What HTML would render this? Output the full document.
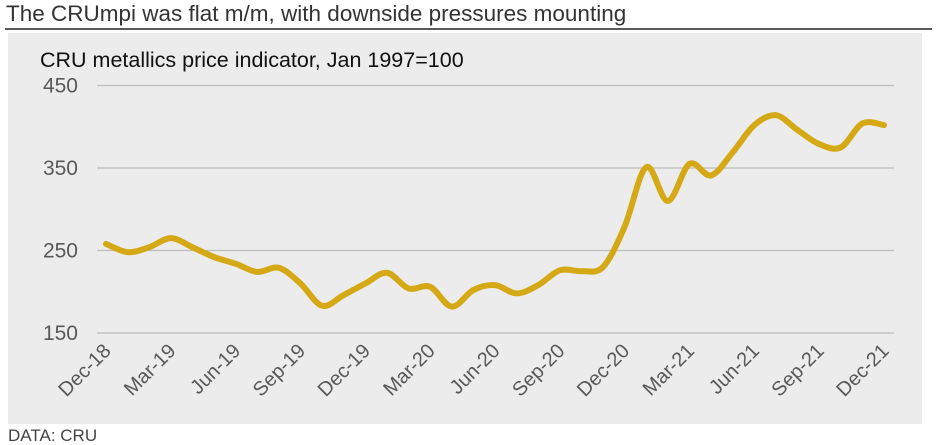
<!DOCTYPE html>
<html><head><meta charset="utf-8"><style>
body{margin:0;background:#fff;font-family:"Liberation Sans",Arial,sans-serif;}
svg{display:block}
</style></head><body>
<svg width="936" height="445">
<text x="6" y="21" font-size="22.5" fill="#333">The CRUmpi was flat m/m, with downside pressures mounting</text>
<line x1="5" y1="29" x2="932" y2="29" stroke="#222" stroke-width="1.5"/>
<rect x="8" y="33" width="914" height="391" fill="#ececec"/>
<text x="40" y="67" font-size="21.5" fill="#111">CRU metallics price indicator, Jan 1997=100</text>
<g id="grid"></g><g id="ylab"></g><g id="xlab"></g>
<path id="line" fill="none" stroke="#d5a915" stroke-width="6" stroke-linecap="round" stroke-linejoin="round"/>
<text x="8" y="441" font-size="17" fill="#444">DATA: CRU</text>
</svg>
<script>
const values=[258,248,254,265,254,242,234,224,229,210,183,196,210,223,204,206,182,202,208,198,208,226,225,230,279,351,310,355,341,369,402,414,396,379,375,404,402];
const yTicks=[150,250,350,450];
const xLabels=["Dec-18","Mar-19","Jun-19","Sep-19","Dec-19","Mar-20","Jun-20","Sep-20","Dec-20","Mar-21","Jun-21","Sep-21","Dec-21"];
const NS="http://www.w3.org/2000/svg";
const x0=106,x1=884,n=values.length-1;
const xs=i=>x0+(x1-x0)*i/n;
const ys=v=>333-(v-150)*(333-85.5)/300;
const g=document.getElementById('grid'),yl=document.getElementById('ylab'),xl=document.getElementById('xlab');
yTicks.forEach(t=>{
 const l=document.createElementNS(NS,'line');
 l.setAttribute('x1',97);l.setAttribute('x2',894);l.setAttribute('y1',ys(t));l.setAttribute('y2',ys(t));
 l.setAttribute('stroke','#bdbdbd');l.setAttribute('stroke-width','1.3');
 
 
 g.appendChild(l);
 const tx=document.createElementNS(NS,'text');
 tx.setAttribute('x',78);tx.setAttribute('y',ys(t)+7);tx.setAttribute('text-anchor','end');
 tx.setAttribute('font-size','21');tx.setAttribute('fill','#595959');tx.textContent=t;
 
 
 yl.appendChild(tx);
});
xLabels.forEach((s,k)=>{
 const x=xs(k*3)+6,y=352;
 const tx=document.createElementNS(NS,'text');
 tx.setAttribute('x',x);tx.setAttribute('y',y);tx.setAttribute('text-anchor','end');
 tx.setAttribute('font-size','20');tx.setAttribute('fill','#595959');
 tx.setAttribute('transform','rotate(-45 '+x+' '+y+')');tx.textContent=s;
 
 
 xl.appendChild(tx);
});
const P=values.map((v,i)=>[xs(i),ys(v)]);
let d='M'+P[0][0]+','+P[0][1];
for(let i=0;i<P.length-1;i++){
 const p0=P[Math.max(0,i-1)],p1=P[i],p2=P[i+1],p3=P[Math.min(P.length-1,i+2)];
 const c1=[p1[0]+(p2[0]-p0[0])/6,p1[1]+(p2[1]-p0[1])/6];
 const c2=[p2[0]-(p3[0]-p1[0])/6,p2[1]-(p3[1]-p1[1])/6];
 d+=' C'+c1+' '+c2+' '+p2;
}
document.getElementById('line').setAttribute('d',d);
</script>
</body></html>
